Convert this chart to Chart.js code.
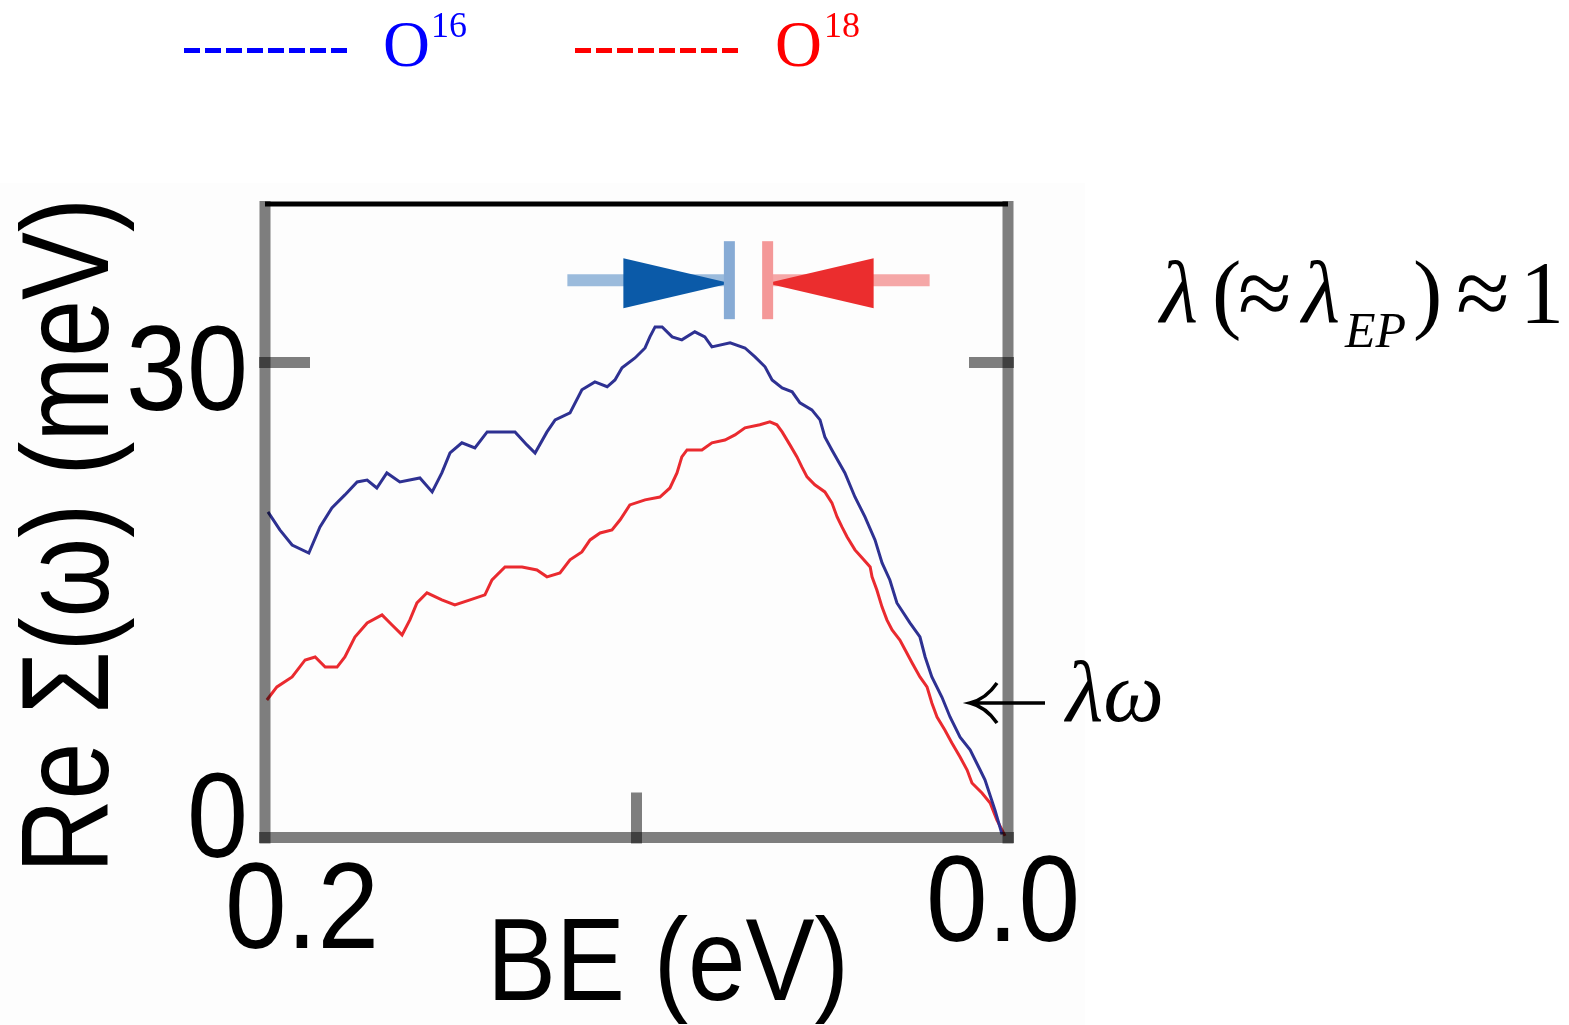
<!DOCTYPE html>
<html>
<head>
<meta charset="utf-8">
<title>Re Σ(ω) vs BE — O16 / O18</title>
<script src="https://cdn.jsdelivr.net/npm/chart.js@4.4.1/dist/chart.umd.min.js"></script>
<style>
  html, body { margin: 0; padding: 0; background: #ffffff; }
  #chart { display: block; }
</style>
</head>
<body>
<canvas id="chart" width="1569" height="1025"></canvas>
<script>
// Binding energy (eV) and Re Σ(ω) (meV), O16 sample
const o16BE = [0.1992, 0.1960, 0.1927, 0.1882, 0.1852, 0.1820, 0.1785, 0.1752, 0.1725, 0.1699,
  0.1672, 0.1637, 0.1583, 0.1550, 0.1524, 0.1502, 0.1470, 0.1435, 0.1402, 0.1327,
  0.1295, 0.1273, 0.1241, 0.1219, 0.1179, 0.1147, 0.1112, 0.1079, 0.1058, 0.1039,
  0.1004, 0.0977, 0.0964, 0.0950, 0.0931, 0.0904, 0.0878, 0.0843, 0.0816, 0.0797,
  0.0748, 0.0708, 0.0681, 0.0654, 0.0635, 0.0608, 0.0581, 0.0560, 0.0528, 0.0506,
  0.0493, 0.0474, 0.0439, 0.0412, 0.0385, 0.0358, 0.0339, 0.0318, 0.0299, 0.0264,
  0.0237, 0.0223, 0.0205, 0.0178, 0.0156, 0.0129, 0.0102, 0.0075, 0.0062, 0.0035, 0.0016];
const o16Sigma = [20.56, 19.42, 18.47, 17.96, 19.61, 20.81, 21.63, 22.45, 22.57, 22.07,
  23.02, 22.45, 22.70, 21.82, 23.02, 24.28, 24.92, 24.60, 25.61, 25.61,
  24.79, 24.28, 25.61, 26.37, 26.81, 28.27, 28.77, 28.46, 28.89, 29.66,
  30.28, 30.91, 31.61, 32.24, 32.24, 31.61, 31.42, 31.93, 31.61, 30.98,
  31.23, 30.91, 30.35, 29.72, 28.89, 28.39, 28.14, 27.44, 27.00, 26.37,
  25.29, 24.47, 23.02, 21.50, 20.24, 18.79, 17.34, 16.26, 14.81, 13.55,
  12.66, 11.40, 10.14, 8.87, 7.61, 6.34, 5.53, 4.26, 3.64, 1.73, 0.2];

// Binding energy (eV) and Re Σ(ω) (meV), O18 sample
const o18BE = [0.1995, 0.1968, 0.1927, 0.1892, 0.1865, 0.1838, 0.1806, 0.1785, 0.1758, 0.1725,
  0.1685, 0.1658, 0.1631, 0.1610, 0.1591, 0.1564, 0.1524, 0.1489, 0.1448, 0.1408,
  0.1389, 0.1354, 0.1308, 0.1268, 0.1241, 0.1206, 0.1179, 0.1147, 0.1125, 0.1098,
  0.1066, 0.1044, 0.1018, 0.0977, 0.0937, 0.0910, 0.0891, 0.0878, 0.0864, 0.0824,
  0.0797, 0.0762, 0.0735, 0.0708, 0.0668, 0.0641, 0.0622, 0.0608, 0.0587, 0.0568,
  0.0555, 0.0541, 0.0520, 0.0493, 0.0474, 0.0460, 0.0447, 0.0433, 0.0412, 0.0393,
  0.0371, 0.0366, 0.0353, 0.0339, 0.0326, 0.0312, 0.0291, 0.0277, 0.0258, 0.0237,
  0.0218, 0.0205, 0.0191, 0.0170, 0.0151, 0.0129, 0.0110, 0.0097, 0.0070, 0.0048,
  0.0030, 0.0008];
const o18Sigma = [8.68, 9.51, 10.14, 11.21, 11.40, 10.76, 10.76, 11.40, 12.66, 13.55,
  14.06, 13.42, 12.79, 13.74, 14.81, 15.45, 15.00, 14.68, 15.00, 15.32,
  16.26, 17.08, 17.08, 16.89, 16.46, 16.70, 17.53, 18.03, 18.79, 19.23,
  19.42, 20.06, 21.00, 21.32, 21.50, 22.07, 23.02, 24.03, 24.47, 24.47,
  24.92, 25.10, 25.42, 25.87, 26.06, 26.24, 26.06, 25.61, 24.79, 24.03,
  23.40, 22.77, 22.27, 21.82, 21.13, 20.24, 19.61, 18.98, 18.16, 17.66,
  17.08, 16.46, 15.63, 14.55, 13.74, 13.10, 12.47, 11.85, 11.02, 10.14,
  9.51, 8.49, 7.61, 6.79, 5.97, 5.08, 4.26, 3.44, 2.81, 2.18,
  1.11, 0.1];

// axis ticks
const xTicks = [0.2, 0.1, 0.0];
const xTickLabels = ['0.2', '', '0.0'];
const yTicks = [0, 30];
const yTickLabels = ['0', '30'];

// kink energies marked with arrows (O16, O18) and the level they sit at
const kinkBE = [0.075, 0.0647];
const kinkLevel = 35;

document.addEventListener('DOMContentLoaded', function() {
    const canvas = document.getElementById('chart');
    const ctx = canvas.getContext('2d');

    const AXIS = 'rgba(0,0,0,0.5)';
    const SANS = '"Liberation Sans", Arial, sans-serif';
    const SERIF = '"Liberation Serif", "Times New Roman", serif';

    function toPoints(xs, ys) {
        return xs.map((x, i) => ({ x: x, y: ys[i] }));
    }

    function line(c, x1, y1, x2, y2, color, width) {
        c.beginPath();
        c.moveTo(x1, y1);
        c.lineTo(x2, y2);
        c.strokeStyle = color;
        c.lineWidth = width;
        c.stroke();
    }

    function text(c, str, x, y, font, color, align, maxW) {
        c.font = font;
        c.fillStyle = color;
        c.textAlign = align || 'left';
        c.textBaseline = 'alphabetic';
        if (maxW) c.fillText(str, x, y, maxW);
        else c.fillText(str, x, y);
    }

    // white page plus the faint panel behind the plot
    const backgroundPlugin = {
        id: 'background',
        beforeDraw(chart) {
            const c = chart.ctx;
            c.save();
            c.fillStyle = '#ffffff';
            c.fillRect(0, 0, chart.width, chart.height);
            c.fillStyle = '#fdfdfd';
            c.fillRect(0, 183, 1085, chart.height - 183);
            c.restore();
        }
    };

    // kink arrows: light tail, solid head, bar at the kink energy
    function drawKink(c, xs, ys, be, dir, dark, light, bar) {
        const bx = xs.getPixelForValue(be);
        const cy = ys.getPixelForValue(kinkLevel);
        const tailEnd = bx - dir * 162;
        const headBase = bx - dir * 106;
        line(c, tailEnd, cy - 3, bx, cy - 3, light, 12);
        c.beginPath();
        c.moveTo(headBase, cy - 25);
        c.lineTo(bx + dir * 1, cy);
        c.lineTo(headBase, cy + 25);
        c.closePath();
        c.fillStyle = dark;
        c.fill();
        line(c, bx, cy - 42, bx, cy + 36, bar, 11);
    }

    // frame, ticks, labels and annotations
    const framePlugin = {
        id: 'frame',
        afterDatasetsDraw(chart) {
            const c = chart.ctx;
            const a = chart.chartArea;
            const xs = chart.scales.x;
            const ys = chart.scales.y;
            c.save();
            c.lineCap = 'butt';

            drawKink(c, xs, ys, kinkBE[0], 1, '#0b5aa8', '#9bbbdc', '#87abd5');
            drawKink(c, xs, ys, kinkBE[1], -1, '#eb2d2e', '#f5a7a7', '#f49898');

            // axis lines (translucent, so crossings come out darker)
            line(c, a.left, a.top - 3, a.left, a.bottom + 6, AXIS, 11);
            line(c, a.right, a.top - 3, a.right, a.bottom + 6, AXIS, 11);
            line(c, a.left - 6, a.bottom, a.right + 6, a.bottom, AXIS, 11);
            line(c, a.left, a.top, a.right, a.top, '#000000', 5);

            // inward ticks
            yTicks.forEach(v => {
                if (v === 0) return;
                const y = ys.getPixelForValue(v);
                line(c, a.left - 6, y, a.left + 45, y, AXIS, 11);
                line(c, a.right - 39, y, a.right + 6, y, AXIS, 11);
            });
            xTicks.forEach(v => {
                const x = xs.getPixelForValue(v);
                if (Math.abs(x - a.left) < 2 || Math.abs(x - a.right) < 2) return;
                line(c, x, a.bottom - 45, x, a.bottom + 6, AXIS, 11);
            });

            // tick labels
            const yNudge = { '0': 19.5, '30': 47.5 };
            yTicks.forEach((v, i) => {
                const y = ys.getPixelForValue(v);
                const lab = yTickLabels[i];
                text(c, lab, 248, y + yNudge[lab], '120px ' + SANS, '#000', 'right', lab.length * 61);
            });
            const xNudge = { '0.2': [37, 948], '0.0': [-5, 941] };
            xTicks.forEach((v, i) => {
                const lab = xTickLabels[i];
                if (!lab) return;
                const x = xs.getPixelForValue(v);
                text(c, lab, x + xNudge[lab][0], xNudge[lab][1], '123px ' + SANS, '#000', 'center', 154);
            });

            // axis titles
            text(c, 'BE (eV)', 668, 1000, '116px ' + SANS, '#000', 'center', 362);
            c.save();
            c.translate(108, 535.5);
            c.rotate(-Math.PI / 2);
            text(c, 'Re Σ(ω) (meV)', 0, 0, '124px ' + SANS, '#000', 'center', 675);
            c.restore();

            // legend
            c.save();
            c.setLineDash([16, 5]);
            line(c, 184, 50.5, 348, 50.5, '#0000ff', 5);
            line(c, 575, 50.5, 740, 50.5, '#ff0000', 5);
            c.restore();
            text(c, 'O', 383, 66, '65px ' + SERIF, '#0000ff');
            text(c, '16', 431, 37, '36px ' + SERIF, '#0000ff');
            text(c, 'O', 775, 66, '65px ' + SERIF, '#ff0000');
            text(c, '18', 824, 37, '36px ' + SERIF, '#ff0000');

            // λ(≈λEP)≈1
            const up = '88px ' + SERIF;
            const it = 'italic 88px ' + SERIF;
            const approx = '98px ' + SERIF;
            text(c, 'λ', 1160, 322, it, '#000');
            text(c, '(', 1212, 322, up, '#000');
            text(c, '≈', 1238, 326, approx, '#000');
            text(c, 'λ', 1302, 322, it, '#000');
            text(c, 'EP', 1345, 347, 'italic 50px ' + SERIF, '#000');
            text(c, ')', 1413, 322, up, '#000');
            text(c, '≈', 1456, 326, approx, '#000');
            text(c, '1', 1520, 322, up, '#000');

            // ← λω
            c.strokeStyle = '#000';
            c.lineWidth = 3.5;
            c.beginPath();
            c.moveTo(972, 703);
            c.lineTo(1045, 703);
            c.moveTo(997, 683);
            c.quadraticCurveTo(986, 699, 970, 703);
            c.quadraticCurveTo(986, 707, 997, 723);
            c.stroke();
            text(c, 'λω', 1066, 721, 'italic 86px ' + SERIF, '#000');

            c.restore();
        }
    };

    new Chart(ctx, {
        type: 'line',
        data: {
            datasets: [
                {
                    label: 'O16',
                    data: toPoints(o16BE, o16Sigma),
                    borderColor: '#2e3192',
                    borderWidth: 3,
                    pointRadius: 0,
                    tension: 0,
                    fill: false
                },
                {
                    label: 'O18',
                    data: toPoints(o18BE, o18Sigma),
                    borderColor: '#ea2a2f',
                    borderWidth: 3,
                    pointRadius: 0,
                    tension: 0,
                    fill: false
                }
            ]
        },
        options: {
            responsive: false,
            animation: false,
            devicePixelRatio: 1,
            events: [],
            layout: { padding: { left: 265, right: 561, top: 204, bottom: 187.5 } },
            scales: {
                x: { type: 'linear', reverse: true, min: 0, max: 0.2, display: false },
                y: { type: 'linear', min: 0, max: 40, display: false }
            },
            plugins: {
                legend: { display: false },
                tooltip: { enabled: false }
            }
        },
        plugins: [backgroundPlugin, framePlugin]
    });
});
</script>
</body>
</html>
